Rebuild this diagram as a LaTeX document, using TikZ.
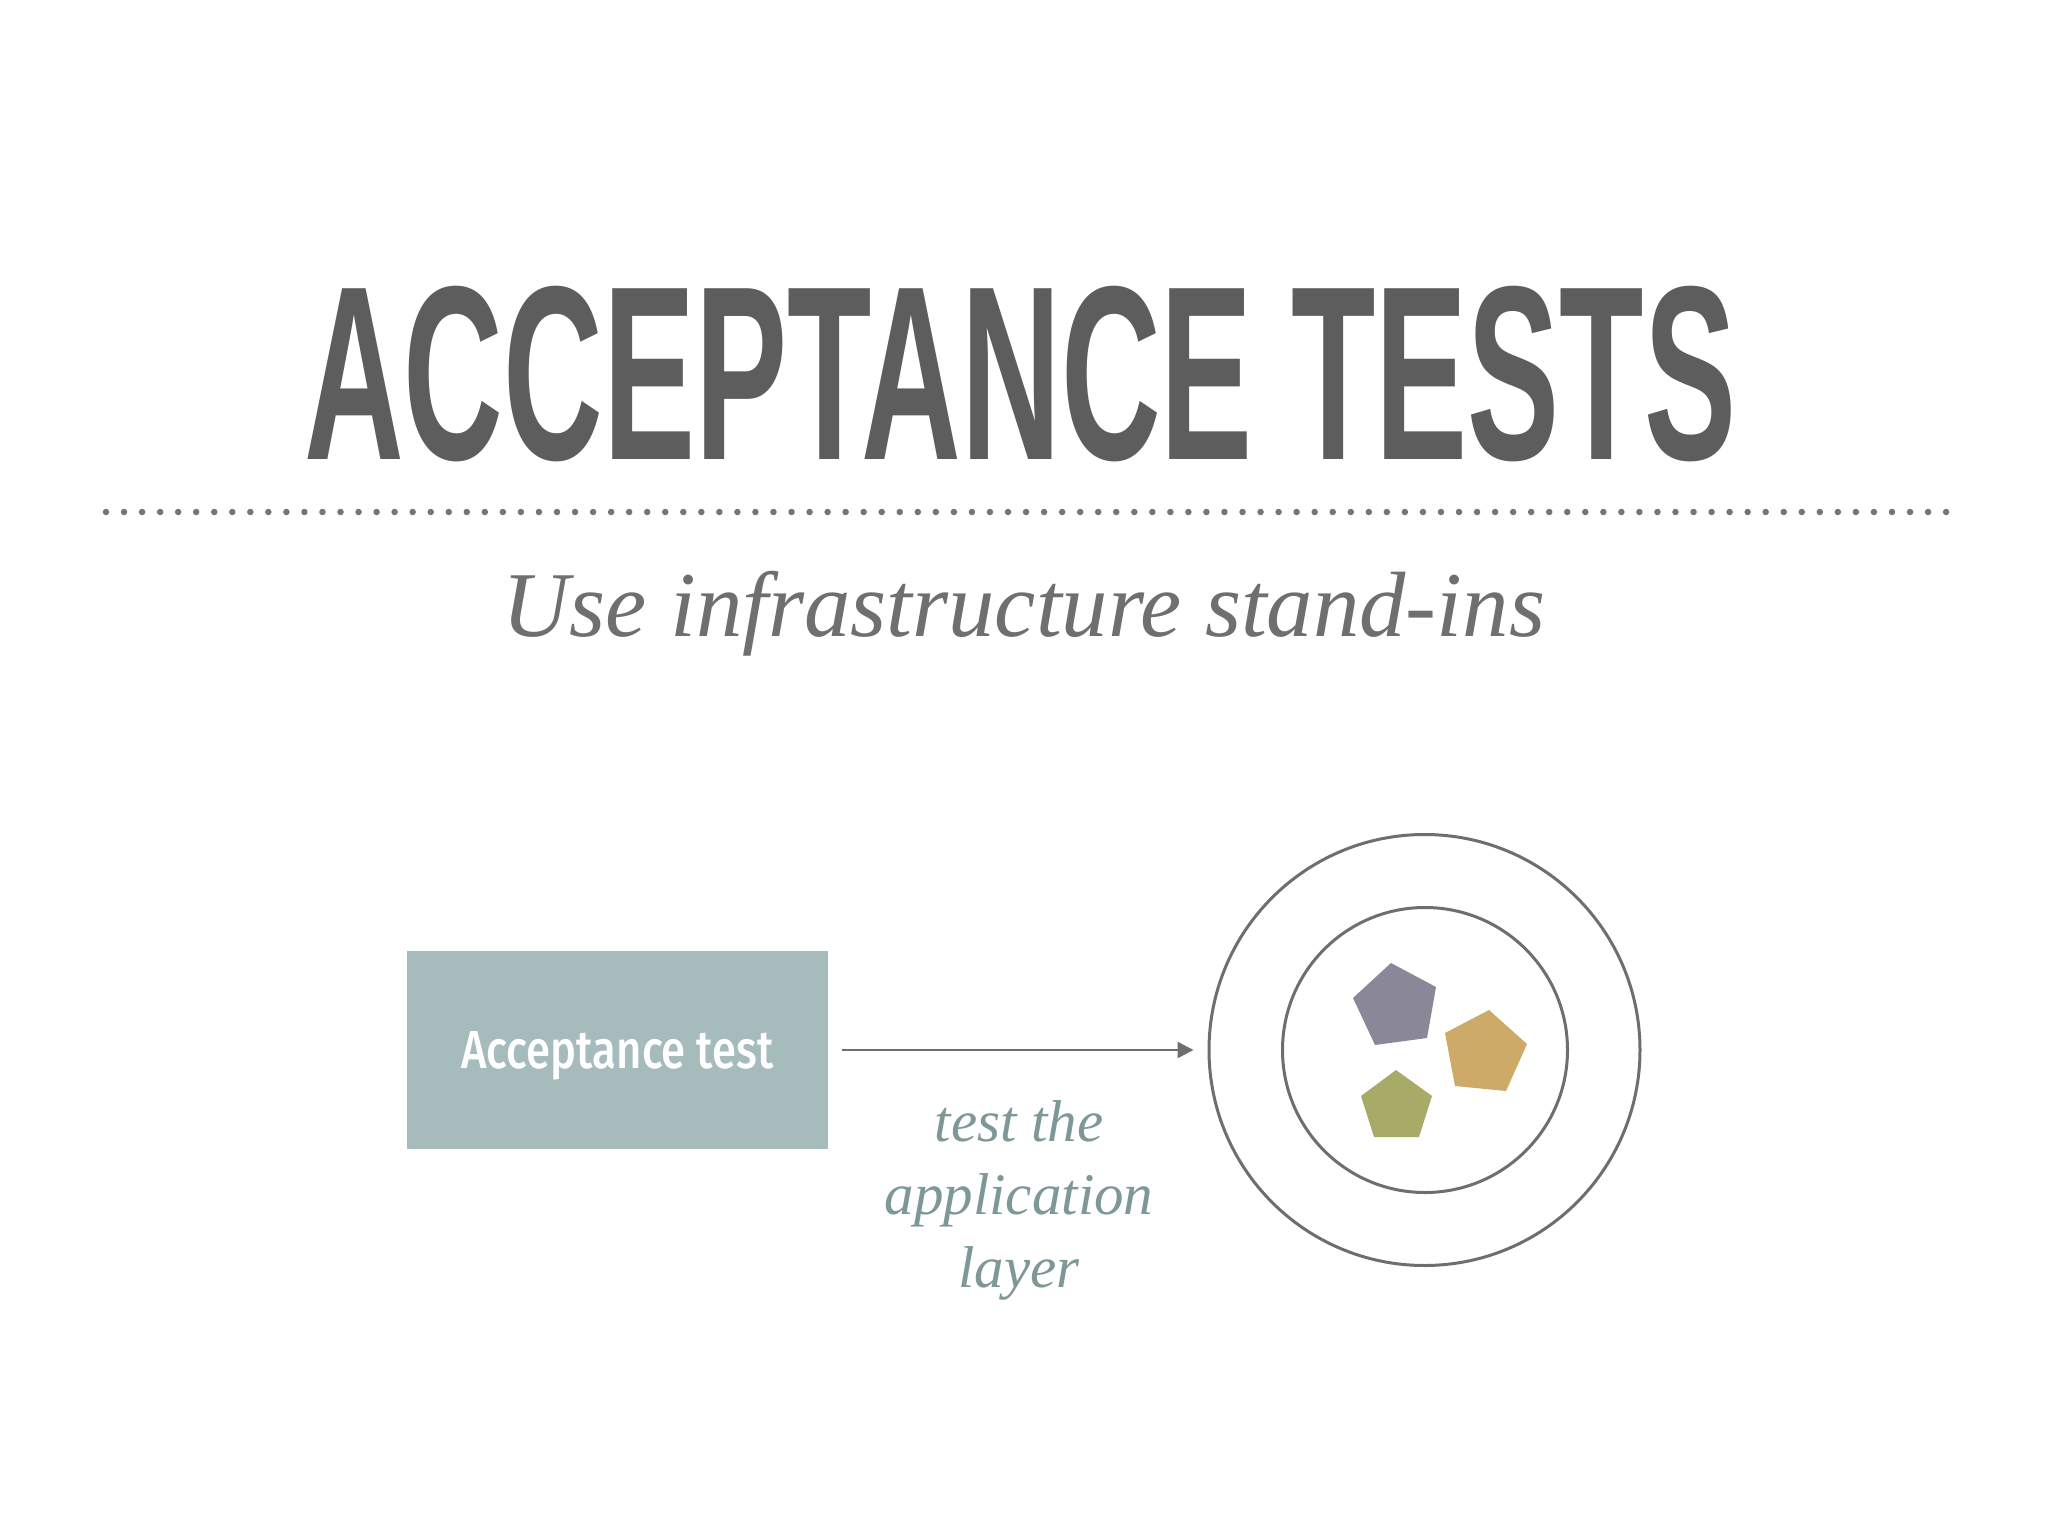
\documentclass[tikz,border=0pt]{standalone}
\usepackage{fontspec}
\usetikzlibrary{arrows.meta}
\newfontfamily\titlefont{Liberation Sans}
\newfontfamily\boxfont{Fira Sans}[UprightFont=* Medium]
\newfontfamily\serifit{Liberation Serif}
\definecolor{titlegray}{HTML}{5D5D5D}
\definecolor{dotgray}{HTML}{757575}
\definecolor{subgray}{HTML}{6F6F6F}
\definecolor{linegray}{HTML}{6E6E6E}
\definecolor{boxfill}{HTML}{A6BBBC}
\definecolor{labelteal}{HTML}{7E9898}
\definecolor{pentpurple}{HTML}{8A8799}
\definecolor{pentorange}{HTML}{CDAA67}
\definecolor{pentgreen}{HTML}{A7AB67}
\tikzset{
  ring/.style={circle, draw=linegray, line width=3pt, inner sep=0pt},
  testbox/.style={rectangle, fill=boxfill, inner sep=0pt, minimum width=421pt, minimum height=198pt,
    text=white, font=\boxfont, text height=37pt, text depth=0pt},
  conn/.style={draw=linegray, line width=2.5pt, -{Triangle[length=16pt,width=16pt]}, shorten <=14pt, shorten >=14pt},
}
\begin{document}
\begin{tikzpicture}[x=1pt,y=-1pt]
\useasboundingbox[fill=white] (0,0) rectangle (2048,1536);
% title
\node[anchor=south west, inner sep=0pt, text=titlegray] (title) at (304,462)
  {\resizebox{1431pt}{173pt}{\titlefont\bfseries ACCEPTANCE TESTS}};
% dotted rule
\coordinate (dotA) at (106,512);
\coordinate (dotB) at (1950,512);
\draw[dotgray, line width=6.5pt, line cap=round, dash pattern=on 0pt off 18.04pt] (dotA) -- (dotB);
% subtitle
\node[anchor=base, inner sep=0pt, text=subgray] (sub) at (1024,636)
  {\resizebox{1042pt}{!}{\serifit\itshape Use infrastructure stand-ins}};
% box
\node[testbox] (box) at (617.5,1050) {\resizebox{312pt}{37pt}{Acceptance test}};
% circles
\node[ring, minimum size=431pt] (outer) at (1424.5,1050) {};
\node[ring, minimum size=285pt] (inner) at (1425,1050) {};
% arrow
\draw[conn] (box) -- (outer);
% label
\node[anchor=base, inner sep=0pt, text=labelteal, align=center,
  font=\serifit\itshape\fontsize{59}{73}\selectfont] (lbl) at (1019,1287) {test the\\application\\layer};
% pentagons
\fill[pentpurple] (1391,963) -- (1436,987) -- (1427,1038) -- (1375,1045) -- (1353,998) -- cycle;
\fill[pentorange] (1489,1010) -- (1527,1044) -- (1506,1091) -- (1455,1086) -- (1445,1033) -- cycle;
\fill[pentgreen] (1396,1070) -- (1432,1096) -- (1419,1137) -- (1374,1137) -- (1361,1096) -- cycle;
\end{tikzpicture}
\end{document}
